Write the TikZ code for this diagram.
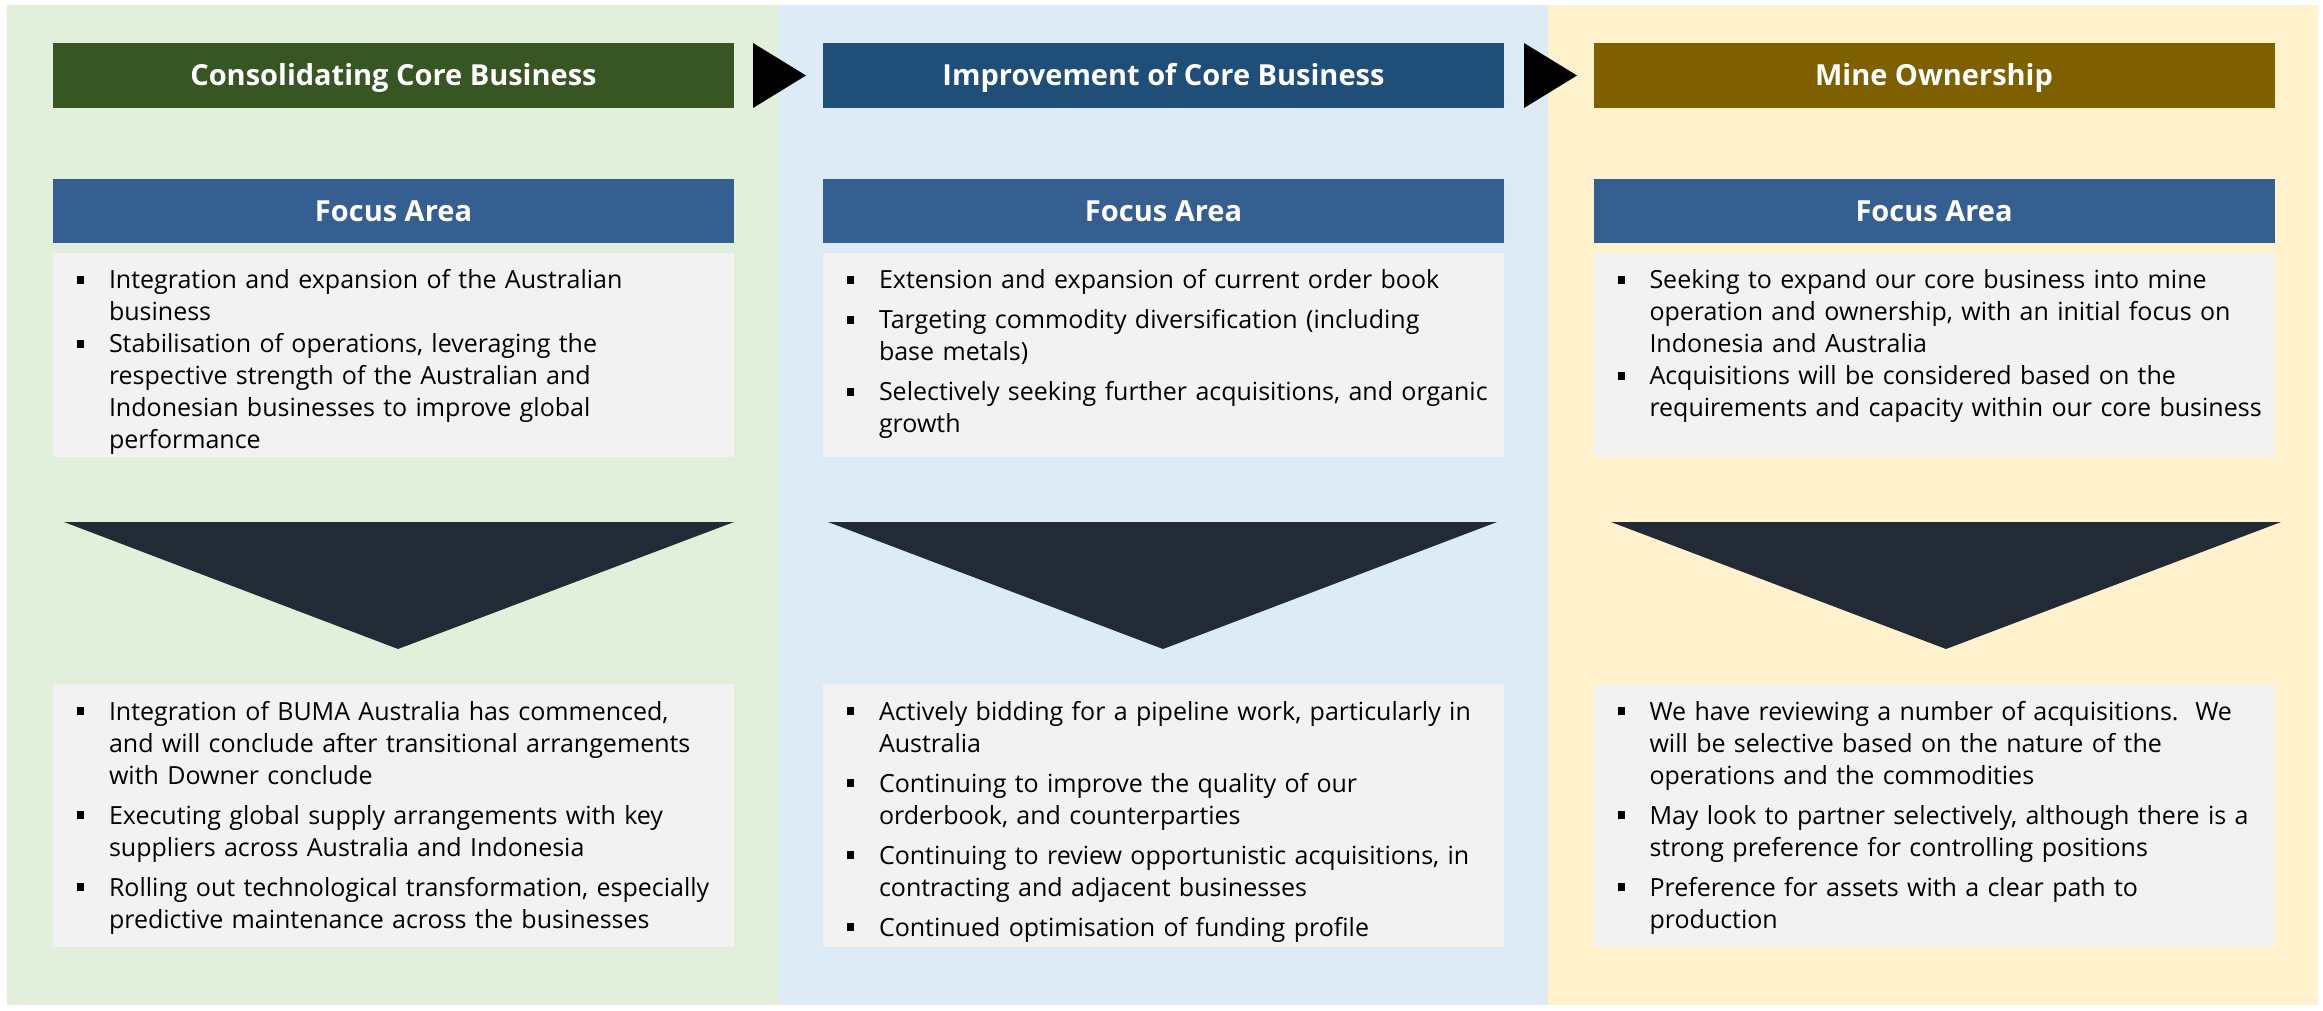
\documentclass[tikz,border=0pt]{standalone}
\usepackage{fontspec}
\setmainfont{Open Sans}
\usetikzlibrary{positioning}

\definecolor{greenbg}{HTML}{E2EFDA}
\definecolor{bluebg}{HTML}{DDEBF7}
\definecolor{yellowbg}{HTML}{FFF2CC}
\definecolor{greenbar}{HTML}{375623}
\definecolor{bluebar}{HTML}{1F4E78}
\definecolor{goldbar}{HTML}{7F6000}
\definecolor{focusbar}{HTML}{365F91}
\definecolor{greybox}{HTML}{F2F2F2}
\definecolor{downarrow}{HTML}{222A35}

% one bullet point, text in a parbox next to the bullet
\newif\iffirstitm
\def\itmsep{0pt}
\newcommand{\itm}[1]{\iffirstitm\firstitmfalse\else\par\vspace{\itmsep}\fi
  \noindent\makebox[16pt][l]{\rule[2.5pt]{3.5pt}{4pt}}%
  \parbox[t]{314pt}{\raggedright\strut#1\strut}}

\tikzset{
  headbar/.style={minimum width=340.5pt, minimum height=32.5pt, inner sep=0pt,
    text height=10.4pt, text depth=0pt,
    text=white, font=\bfseries\fontsize{14.5pt}{18pt}\selectfont},
  focusbox/.style={headbar, fill=focusbar, minimum height=32pt},
  textbox/.style={fill=greybox, minimum width=340.5pt, inner sep=0pt},
  bulletlist/.style={anchor=north west, inner sep=0pt, text width=330pt,
    font={\fontsize{12.5pt}{16pt}\selectfont\setlength{\lineskip}{0pt}\raggedright},
    execute at begin node={\firstitmtrue\def\itmsep{0pt}}},
  spacedlist/.style={bulletlist, execute at begin node={\firstitmtrue\def\itmsep{4pt}}}
}

\begin{document}
\begin{tikzpicture}[x=0.5pt, y=-0.5pt]
    \useasboundingbox (0,0) rectangle (2323,1011);

    % Hintergrund der drei Spalten
    \fill[greenbg] (7,5) rectangle (778,1005);
    \fill[bluebg] (778,5) rectangle (1548,1005);
    \fill[yellowbg] (1548,5) rectangle (2318,1005);

    % Titelbalken
    \node[headbar, fill=greenbar] (t1) at (393.5,75.5) {Consolidating Core Business};
    \node[headbar, fill=bluebar] (t2) at (1163.5,75.5) {Improvement of Core Business};
    \node[headbar, fill=goldbar] (t3) at (1934,75.5) {Mine Ownership};

    % Pfeile zwischen den Titeln
    \fill[black] (753,43) -- (806,75.5) -- (753,108) -- cycle;
    \fill[black] (1524,43) -- (1577,75.5) -- (1524,108) -- cycle;

    % Focus Area
    \node[focusbox, below=35pt of t1] (f1) {Focus Area};
    \node[focusbox, below=35pt of t2] (f2) {Focus Area};
    \node[focusbox, below=35pt of t3] (f3) {Focus Area};

    \node[textbox, minimum height=102pt, below=4.5pt of f1] (fa1) {};
    \node[textbox, minimum height=102pt, below=4.5pt of f2] (fa2) {};
    \node[textbox, minimum height=102pt, below=4.5pt of f3] (fa3) {};

    \node[bulletlist] (fl1) at ([xshift=12pt, yshift=-6.8pt]fa1.north west) {%
      \itm{Integration and expansion of the Australian\newline business}
      \itm{Stabilisation of operations, leveraging the\newline respective strength of the Australian and\newline Indonesian businesses to improve global\newline performance}};
    \node[spacedlist] (fl2) at ([xshift=12pt, yshift=-6.8pt]fa2.north west) {%
      \itm{Extension and expansion of current order book}
      \itm{Targeting commodity diversification (including\newline base metals)}
      \itm{Selectively seeking further acquisitions, and organic\newline growth}};
    \node[bulletlist] (fl3) at ([xshift=12pt, yshift=-6.8pt]fa3.north west) {%
      \itm{Seeking to expand our core business into mine\newline operation and ownership, with an initial focus on\newline Indonesia and Australia}
      \itm{Acquisitions will be considered based on the\newline requirements and capacity within our core business}};

    % grosse Dreiecke
    \fill[downarrow] (64,522) -- (734,522) -- (398,649) -- cycle;
    \fill[downarrow] (828,522) -- (1497,522) -- (1163,649) -- cycle;
    \fill[downarrow] (1611,522) -- (2281,522) -- (1946,649) -- cycle;

    % untere Kaesten
    \node[textbox, minimum height=131.5pt, below=113.5pt of fa1] (st1) {};
    \node[textbox, minimum height=131.5pt, below=113.5pt of fa2] (st2) {};
    \node[textbox, minimum height=131.5pt, below=113.5pt of fa3] (st3) {};

    \node[spacedlist] (sl1) at ([xshift=12pt, yshift=-6.8pt]st1.north west) {%
      \itm{Integration of BUMA Australia has commenced,\newline and will conclude after transitional arrangements\newline with Downer conclude}
      \itm{Executing global supply arrangements with key\newline suppliers across Australia and Indonesia}
      \itm{Rolling out technological transformation, especially\newline predictive maintenance across the businesses}};
    \node[spacedlist] (sl2) at ([xshift=12pt, yshift=-6.8pt]st2.north west) {%
      \itm{Actively bidding for a pipeline work, particularly in\newline Australia}
      \itm{Continuing to improve the quality of our\newline orderbook, and counterparties}
      \itm{Continuing to review opportunistic acquisitions, in\newline contracting and adjacent businesses}
      \itm{Continued optimisation of funding profile}};
    \node[spacedlist] (sl3) at ([xshift=12pt, yshift=-6.8pt]st3.north west) {%
      \itm{We have reviewing a number of acquisitions.\ \ We\newline will be selective based on the nature of the\newline operations and the commodities}
      \itm{May look to partner selectively, although there is a\newline strong preference for controlling positions}
      \itm{Preference for assets with a clear path to\newline production}};

\end{tikzpicture}
\end{document}
